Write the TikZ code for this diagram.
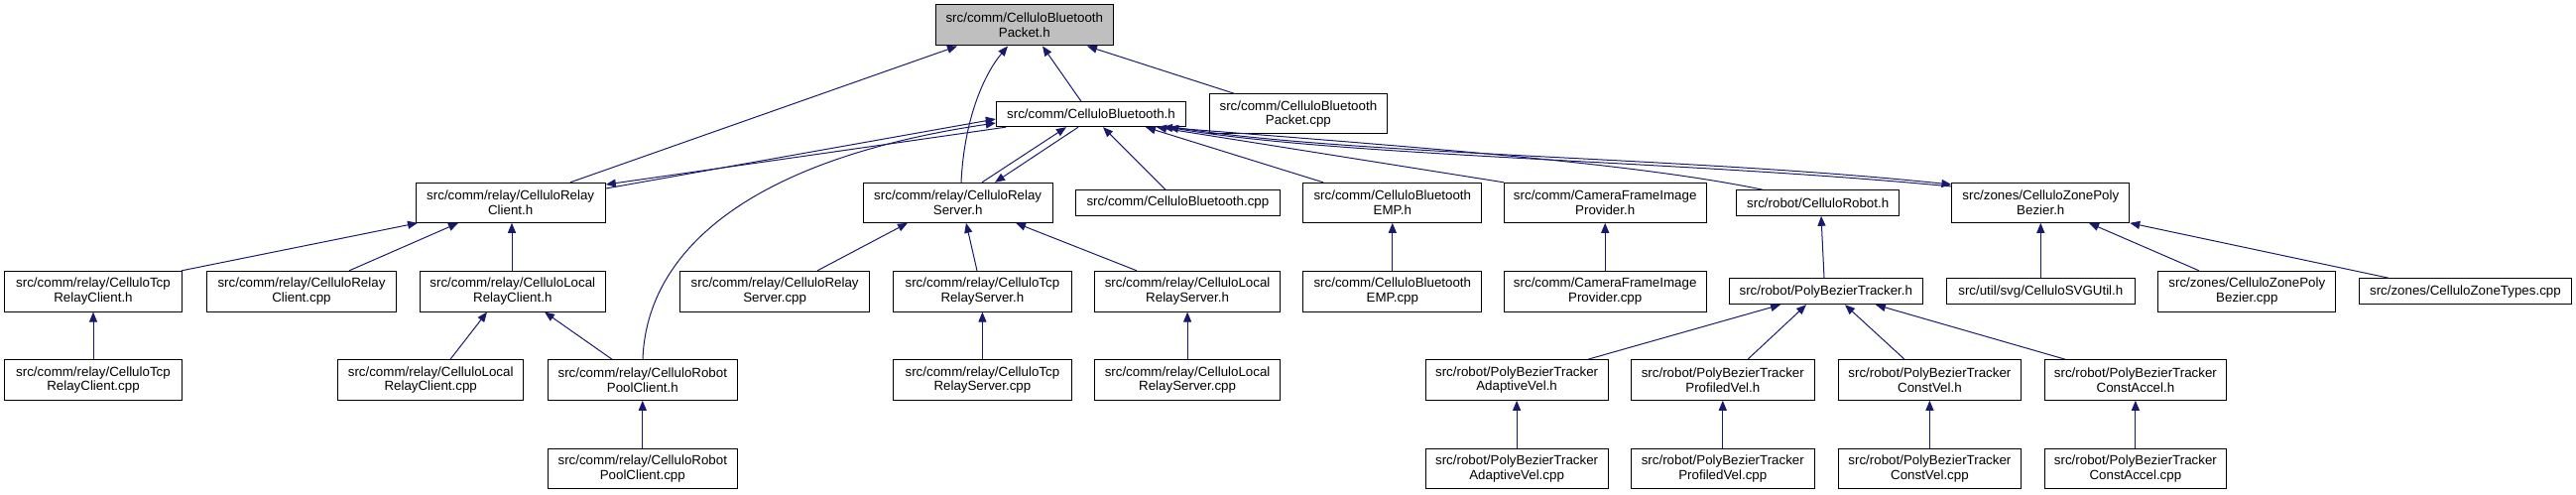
\documentclass[tikz,border=0pt]{standalone}
\usepackage{fontspec}
\setmainfont{Liberation Sans}
\usetikzlibrary{arrows.meta}
\definecolor{edgecol}{HTML}{191970}
\definecolor{rootfill}{HTML}{BFBFBF}
\newcommand{\dnode}[6]{\node[box, minimum width=#4*0.75pt, minimum height=#5*0.75pt] (#1) at (#2,#3) {#6};}
\begin{document}
\begin{tikzpicture}[x=0.75pt,y=-0.75pt,
  box/.style={draw=black, line width=0.75pt, fill=white, inner sep=0pt, align=center, rectangle,
    font=\fontsize{10}{11}\selectfont},
  rootbox/.style={fill=rootfill},
  edge/.style={draw=edgecol, line width=0.75pt, -{Triangle[length=7.5pt,width=6pt]}}]
\useasboundingbox (0,0) rectangle (2597,499);
% row 0
\node[box, rootbox, minimum width=179.2*0.75pt, minimum height=41*0.75pt] (P) at (1032.8,25.5) {src/comm/CelluloBluetooth\\Packet.h};
% row 1
\dnode{BT}{1100}{115.2}{191.4}{25}{src/comm/CelluloBluetooth.h}
\dnode{Pcpp}{1308.9}{115}{178.7}{40}{src/comm/CelluloBluetooth\\Packet.cpp}
% row 2
\dnode{RC}{514.7}{204.3}{191.3}{40}{src/comm/relay/CelluloRelay\\Client.h}
\dnode{RS}{965.7}{204.3}{191.4}{40}{src/comm/relay/CelluloRelay\\Server.h}
\dnode{BTcpp}{1187.4}{204.5}{205.3}{25.6}{src/comm/CelluloBluetooth.cpp}
\dnode{EMP}{1403.8}{204.3}{179.7}{40}{src/comm/CelluloBluetooth\\EMP.h}
\dnode{CFIP}{1618.2}{204.3}{203.6}{40}{src/comm/CameraFrameImage\\Provider.h}
\dnode{Robot}{1832.7}{204.5}{163.8}{25.6}{src/robot/CelluloRobot.h}
\dnode{ZPB}{2057.3}{204.3}{178.9}{40}{src/zones/CelluloZonePoly\\Bezier.h}
% row 3
\dnode{TcpRCh}{94}{293.7}{179.3}{40.7}{src/comm/relay/CelluloTcp\\RelayClient.h}
\dnode{RCcpp}{304}{293.7}{191}{40.7}{src/comm/relay/CelluloRelay\\Client.cpp}
\dnode{LocalRCh}{516.8}{293.7}{187}{40.7}{src/comm/relay/CelluloLocal\\RelayClient.h}
\dnode{RScpp}{781.2}{293.7}{190.8}{40.7}{src/comm/relay/CelluloRelay\\Server.cpp}
\dnode{TcpRSh}{990.4}{293.7}{179.8}{40.7}{src/comm/relay/CelluloTcp\\RelayServer.h}
\dnode{LocalRSh}{1197.1}{293.7}{187}{40.7}{src/comm/relay/CelluloLocal\\RelayServer.h}
\dnode{EMPcpp}{1403.8}{293.7}{179.7}{40.7}{src/comm/CelluloBluetooth\\EMP.cpp}
\dnode{CFIPcpp}{1618.2}{293.7}{203.6}{40.7}{src/comm/CameraFrameImage\\Provider.cpp}
\dnode{PBTh}{1840.8}{293.7}{194.6}{26}{src/robot/PolyBezierTracker.h}
\dnode{SVG}{2057.3}{293.7}{190}{26}{src/util/svg/CelluloSVGUtil.h}
\dnode{ZPBcpp}{2265.3}{293.7}{179}{40.7}{src/zones/CelluloZonePoly\\Bezier.cpp}
\dnode{ZT}{2485.4}{293.7}{214.2}{26}{src/zones/CelluloZoneTypes.cpp}
% row 4
\dnode{TcpRCcpp}{94}{383}{179.3}{40.6}{src/comm/relay/CelluloTcp\\RelayClient.cpp}
\dnode{LocalRCcpp}{434.2}{383}{187}{40.6}{src/comm/relay/CelluloLocal\\RelayClient.cpp}
\dnode{RPCh}{647.8}{383}{191.5}{40.6}{src/comm/relay/CelluloRobot\\PoolClient.h}
\dnode{TcpRScpp}{990.4}{383}{179.8}{40.6}{src/comm/relay/CelluloTcp\\RelayServer.cpp}
\dnode{LocalRScpp}{1197.1}{383}{187}{40.6}{src/comm/relay/CelluloLocal\\RelayServer.cpp}
\dnode{AVh}{1529.1}{383}{184.2}{40.6}{src/robot/PolyBezierTracker\\AdaptiveVel.h}
\dnode{PVh}{1736.8}{383}{184.5}{40.6}{src/robot/PolyBezierTracker\\ProfiledVel.h}
\dnode{CVh}{1945.4}{383}{184.6}{40.6}{src/robot/PolyBezierTracker\\ConstVel.h}
\dnode{CAh}{2152.9}{383}{183.4}{40.6}{src/robot/PolyBezierTracker\\ConstAccel.h}
% row 5
\dnode{RPCcpp}{647.8}{472.5}{191.5}{40.4}{src/comm/relay/CelluloRobot\\PoolClient.cpp}
\dnode{AVcpp}{1529.1}{472.5}{184.2}{40.4}{src/robot/PolyBezierTracker\\AdaptiveVel.cpp}
\dnode{PVcpp}{1736.8}{472.5}{184.5}{40.4}{src/robot/PolyBezierTracker\\ProfiledVel.cpp}
\dnode{CVcpp}{1945.4}{472.5}{184.6}{40.4}{src/robot/PolyBezierTracker\\ConstVel.cpp}
\dnode{CAcpp}{2152.9}{472.5}{183.4}{40.4}{src/robot/PolyBezierTracker\\ConstAccel.cpp}
% edges to root
\draw[edge] (BT.north -| 1090,0) -- (P.south -| 1051,0);
\draw[edge] (Pcpp.north -| 1245,0) -- (P.south -| 1096,0);
\draw[edge] (RC.north -| 575,0) -- (P.south -| 965,0);
\draw[edge] (RS.north -| 969,0) .. controls (972,120) and (992,75) .. (P.south -| 1016,0);
% CelluloBluetooth.h
\draw[edge] (RC.east |- 0,190) -- (BT.west |- 0,120);
\draw[edge] (BT.south -| 1014,0) -- (RC.east |- 0,186);
\draw[edge] (RPCh.north -| 648,0) .. controls (652,250) and (760,160) .. (BT.west |- 0,124);
\draw[edge] (RS.north -| 990,0) -- (BT.south -| 1075,0);
\draw[edge] (BT.south -| 1087,0) -- (RS.north -| 1003,0);
\draw[edge] (BTcpp.north -| 1175,0) -- (BT.south -| 1112,0);
\draw[edge] (EMP.north -| 1334,0) -- (BT.south -| 1155,0);
\draw[edge] (CFIP.north west) -- (BT.south -| 1166,0);
\draw[edge] (Robot.north -| 1777,0) .. controls (1650,165) and (1450,150) .. (BT.south -| 1172,0);
\draw[edge] (ZPB.west |- 0,188) .. controls (1700,162) and (1350,158) .. (BT.south -| 1178,0);
\draw[edge] (BT.south -| 1184,0) .. controls (1350,156) and (1700,158) .. (ZPB.west |- 0,186);
% relay client
\draw[edge] (TcpRCh.north -| 183,0) -- (RC.south -| 421,0);
\draw[edge] (RCcpp.north -| 352,0) -- (RC.south -| 462,0);
\draw[edge] (LocalRCh.north -| 516,0) -- (RC.south -| 516,0);
\draw[edge] (TcpRCcpp.north) -- (TcpRCh.south);
\draw[edge] (LocalRCcpp.north -| 454,0) -- (LocalRCh.south -| 491,0);
\draw[edge] (RPCh.north -| 617,0) -- (LocalRCh.south -| 549,0);
\draw[edge] (RPCcpp.north) -- (RPCh.south);
% relay server
\draw[edge] (RScpp.north -| 824,0) -- (RS.south -| 915,0);
\draw[edge] (TcpRSh.north -| 985,0) -- (RS.south -| 974,0);
\draw[edge] (LocalRSh.north -| 1146,0) -- (RS.south -| 1024,0);
\draw[edge] (TcpRScpp.north) -- (TcpRSh.south);
\draw[edge] (LocalRScpp.north) -- (LocalRSh.south);
% EMP, camera
\draw[edge] (EMPcpp.north) -- (EMP.south);
\draw[edge] (CFIPcpp.north) -- (CFIP.south);
% robot
\draw[edge] (PBTh.north -| 1839,0) -- (Robot.south -| 1836,0);
\draw[edge] (AVh.north -| 1601,0) -- (PBTh.south -| 1795,0);
\draw[edge] (PVh.north -| 1762,0) -- (PBTh.south -| 1821,0);
\draw[edge] (CVh.north -| 1920,0) -- (PBTh.south -| 1860,0);
\draw[edge] (CAh.north -| 2082,0) -- (PBTh.south -| 1891,0);
\draw[edge] (AVcpp.north) -- (AVh.south);
\draw[edge] (PVcpp.north) -- (PVh.south);
\draw[edge] (CVcpp.north) -- (CVh.south);
\draw[edge] (CAcpp.north) -- (CAh.south);
% zones
\draw[edge] (SVG.north) -- (ZPB.south);
\draw[edge] (ZPBcpp.north -| 2217,0) -- (ZPB.south -| 2106,0);
\draw[edge] (ZT.north -| 2408,0) -- (ZPB.south east);
\end{tikzpicture}
\end{document}
